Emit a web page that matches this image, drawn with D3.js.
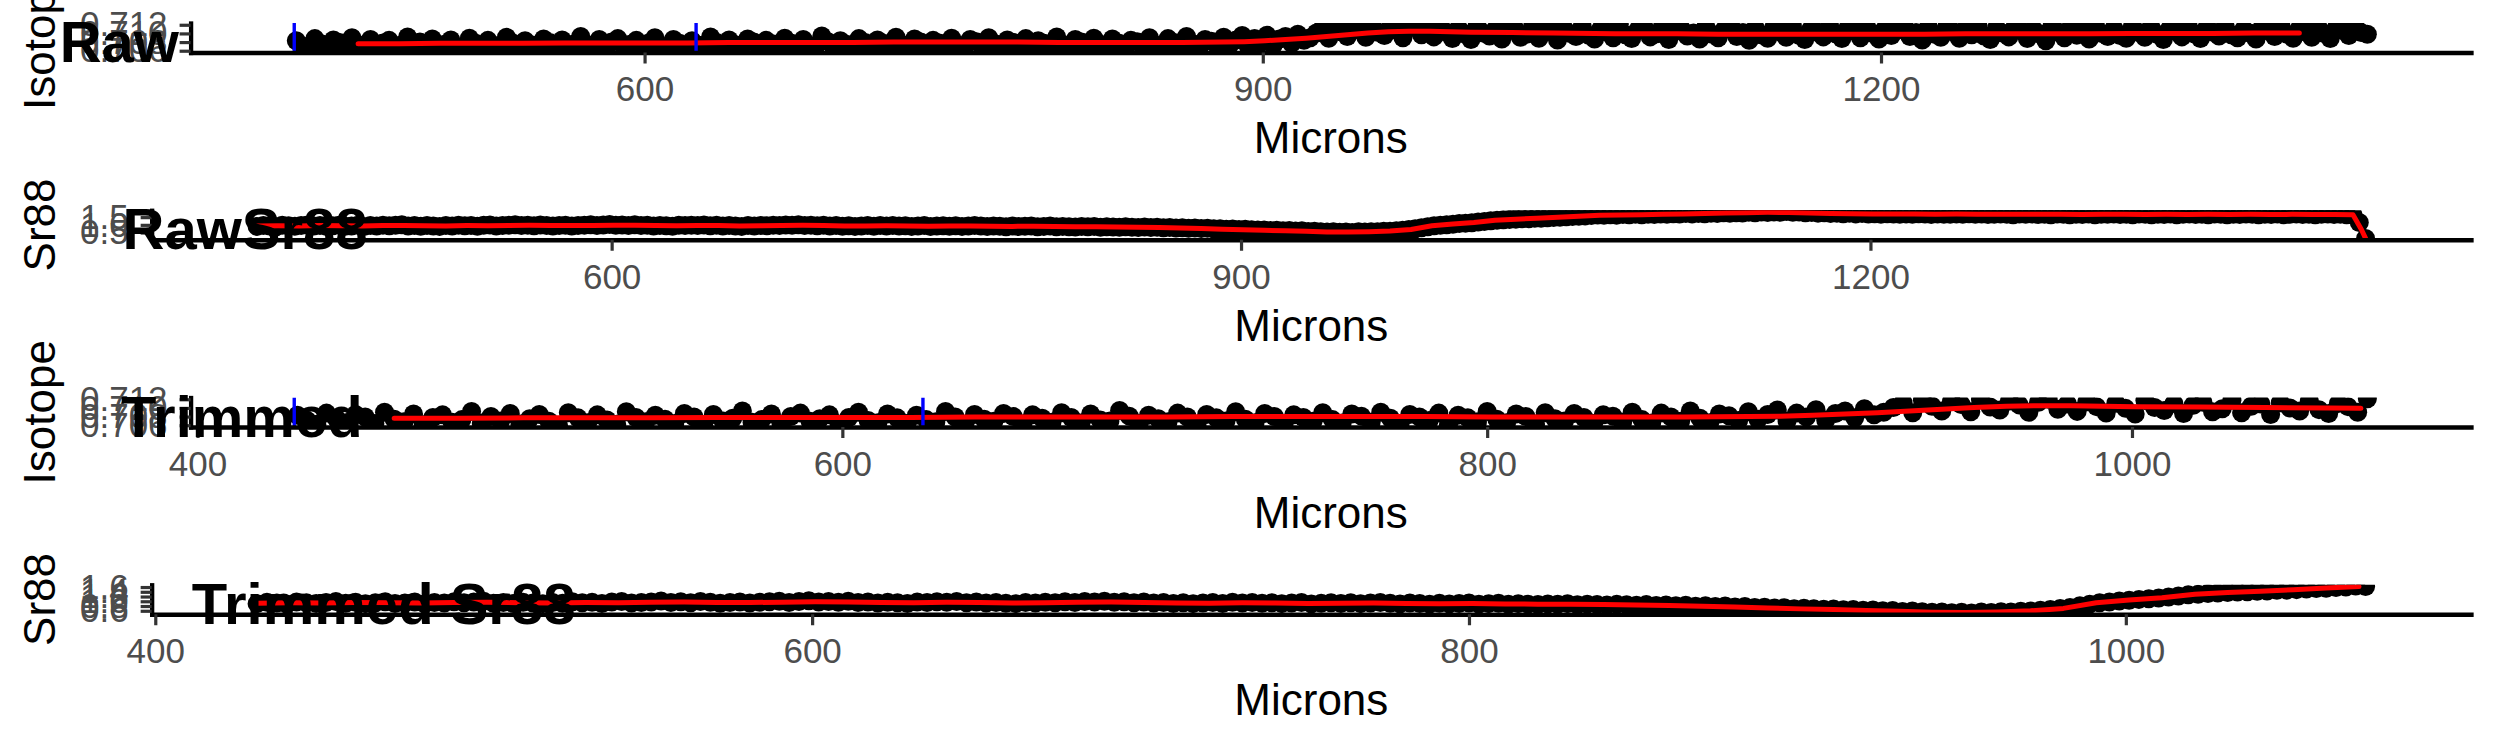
<!DOCTYPE html>
<html><head><meta charset="utf-8">
<script src="https://cdn.jsdelivr.net/npm/d3@7"></script>
<style>
html,body{margin:0;padding:0;background:#fff;}
svg{display:block;}
text{font-family:"Liberation Sans", Arial, Helvetica, sans-serif;}
</style></head><body>
<svg id="chart" width="2495" height="749"></svg>
<script>
// ---------------- DATA ----------------
const microns = [
431,434,437,440,443,446,449,452,455,458,
461,464,467,470,473,476,479,482,485,488,
491,494,497,500,503,506,509,512,515,518,
521,524,527,530,533,536,539,542,545,548,
551,554,557,560,563,566,569,572,575,578,
581,584,587,590,593,596,599,602,605,608,
611,614,617,620,623,626,629,632,635,638,
641,644,647,650,653,656,659,662,665,668,
671,674,677,680,683,686,689,692,695,698,
701,704,707,710,713,716,719,722,725,728,
731,734,737,740,743,746,749,752,755,758,
761,764,767,770,773,776,779,782,785,788,
791,794,797,800,803,806,809,812,815,818,
821,824,827,830,833,836,839,842,845,848,
851,854,857,860,863,866,869,872,875,878,
881,884,887,890,893,896,899,902,905,908,
911,914,917,920,923,926,929,932,935,938,
941,944,947,950,953,956,959,962,965,968,
971,974,977,980,983,986,989,992,995,998,
1001,1004,1007,1010,1013,1016,1019,1022,1025,1028,
1031,1034,1037,1040,1043,1046,1049,1052,1055,1058,
1061,1064,1067,1070,1073,1076,1079,1082,1085,1088,
1091,1094,1097,1100,1103,1106,1109,1112,1115,1118,
1121,1124,1127,1130,1133,1136,1139,1142,1145,1148,
1151,1154,1157,1160,1163,1166,1169,1172,1175,1178,
1181,1184,1187,1190,1193,1196,1199,1202,1205,1208,
1211,1214,1217,1220,1223,1226,1229,1232,1235,1238,
1241,1244,1247,1250,1253,1256,1259,1262,1265,1268,
1271,1274,1277,1280,1283,1286,1289,1292,1295,1298,
1301,1304,1307,1310,1313,1316,1319,1322,1325,1328,
1331,1334,1337,1340,1343,1346,1349,1352,1355,1358,
1361,1364,1367,1370,1373,1376,1379,1382,1385,1388,
1391,1394,1397,1400,1403,1406,1409,1412,1415,1418,
1421,1424,1427,1430,1433,1436];

const isotope = [
0.7083,0.7071,0.7062,0.7088,0.7076,0.7066,0.7085,0.7079,0.7064,0.7090,
0.7074,0.7068,0.7086,0.7061,0.7078,0.7084,0.7067,0.7073,0.7092,0.7065,
0.7080,0.7070,0.7087,0.7063,0.7075,0.7085,0.7069,0.7059,0.7089,0.7077,
0.7066,0.7084,0.7072,0.7062,0.7091,0.7078,0.7068,0.7083,0.7074,0.7064,
0.7087,0.7079,0.7061,0.7085,0.7070,0.7076,0.7093,0.7067,0.7073,0.7086,
0.7063,0.7080,0.7088,0.7069,0.7075,0.7084,0.7062,0.7078,0.7090,0.7071,
0.7066,0.7086,0.7077,0.7064,0.7083,0.7073,0.7068,0.7092,0.7079,0.7062,
0.7085,0.7074,0.7069,0.7087,0.7080,0.7063,0.7084,0.7076,0.7067,0.7089,
0.7078,0.7065,0.7086,0.7072,0.7070,0.7094,0.7081,0.7064,0.7083,0.7075,
0.7068,0.7088,0.7079,0.7061,0.7085,0.7077,0.7070,0.7091,0.7074,0.7066,
0.7087,0.7080,0.7063,0.7084,0.7078,0.7069,0.7089,0.7073,0.7065,0.7086,
0.7081,0.7067,0.7090,0.7076,0.7064,0.7085,0.7079,0.7071,0.7088,0.7062,
0.7083,0.7077,0.7068,0.7092,0.7074,0.7066,0.7086,0.7080,0.7063,0.7089,
0.7075,0.7070,0.7087,0.7078,0.7064,0.7084,0.7081,0.7067,0.7090,0.7073,
0.7065,0.7088,0.7079,0.7069,0.7093,0.7076,0.7066,0.7086,0.7082,0.7071,
0.7091,0.7074,0.7085,0.7095,0.7070,0.7088,0.7079,0.7096,0.7072,0.7087,
0.7093,0.7077,0.7098,0.7084,0.7090,0.7101,
0.7112,0.7089,0.7118,0.7104,0.7093,0.7115,0.7108,0.7091,0.7119,0.7102,
0.7095,0.7116,0.7107,0.7090,0.7113,0.7120,0.7097,0.7109,0.7092,0.7114,
0.7103,0.7088,0.7111,0.7099,0.7086,0.7117,0.7101,0.7094,0.7110,0.7087,
0.7106,0.7113,0.7091,0.7098,0.7118,0.7089,0.7104,0.7109,0.7085,0.7112,
0.7100,0.7093,0.7116,0.7096,0.7087,0.7110,0.7103,0.7090,0.7121,0.7097,
0.7088,0.7108,0.7114,0.7092,0.7099,0.7117,0.7086,0.7105,0.7111,0.7094,
0.7101,0.7087,0.7115,0.7098,0.7090,0.7109,0.7119,0.7093,0.7102,0.7084,
0.7112,0.7097,0.7089,0.7114,0.7104,0.7091,0.7117,0.7096,0.7086,0.7110,
0.7103,0.7092,0.7118,0.7099,0.7088,0.7113,0.7106,0.7090,0.7115,0.7100,
0.7087,0.7111,0.7095,0.7108,0.7120,0.7093,0.7102,0.7085,0.7114,0.7098,
0.7091,0.7116,0.7104,0.7089,0.7110,0.7097,0.7118,0.7094,0.7086,0.7112,
0.7101,0.7092,0.7115,0.7106,0.7088,0.7109,0.7099,0.7083,0.7117,0.7103,
0.7090,0.7113,0.7096,0.7108,0.7087,0.7119,0.7100,0.7093,0.7111,0.7095,
0.7089,0.7116,0.7102,0.7091,0.7114,0.7098,0.7086,0.7110,0.7105,0.7092,
0.7118,0.7099,0.7088,0.7112,0.7103,0.7094,0.7116,0.7097,0.7090,0.7109,
0.7101,0.7087,0.7114,0.7106,0.7093,0.7119,0.7098,0.7089,0.7111,0.7104,
0.7091,0.7115,0.7100,0.7088,0.7113,0.7107,0.7095,0.7117,0.7102,0.7098];

const sr88 = [
0.90,0.96,0.93,0.88,0.97,0.94,0.91,0.95,0.99,0.92,
0.96,0.90,0.94,0.98,0.91,0.93,0.97,0.89,0.95,0.93,
0.98,0.94,0.97,1.00,0.92,0.95,0.91,0.96,0.93,0.90,
0.95,0.92,0.98,0.94,0.96,0.91,0.97,0.99,0.93,0.95,
0.97,1.01,0.95,0.98,0.94,0.99,0.96,0.92,0.95,0.97,
0.93,0.96,0.98,1.00,0.95,0.99,1.02,0.97,0.99,0.96,
1.00,0.95,0.97,0.93,0.96,0.94,0.91,0.97,0.95,0.98,
0.96,0.99,0.94,0.97,0.93,0.95,0.92,0.90,0.95,0.93,
0.96,0.94,0.98,0.95,0.99,0.97,1.00,0.96,0.98,0.94,
0.97,0.93,0.95,0.91,0.94,0.90,0.93,0.95,0.91,0.96,
0.93,0.95,0.92,0.94,0.90,0.93,0.95,0.89,0.92,0.94,
0.91,0.94,0.90,0.93,0.95,0.92,0.89,0.93,0.91,0.88,
0.92,0.89,0.91,0.93,0.88,0.90,0.92,0.87,0.90,0.88,
0.86,0.89,0.87,0.90,0.85,0.88,0.86,0.84,0.87,0.85,
0.83,0.86,0.82,0.84,0.81,0.83,0.79,0.81,0.78,0.80,
0.76,0.78,0.74,0.75,0.72,0.73,0.69,0.71,0.68,0.66,
0.67,0.64,0.65,0.62,0.63,0.60,0.61,0.57,0.59,0.56,
0.54,0.55,0.52,0.54,0.51,0.55,0.53,0.56,0.55,0.58,
0.59,0.62,0.65,0.70,0.74,0.81,0.88,0.94,0.97,1.01,
1.04,1.08,1.11,1.14,1.18,1.22,1.27,1.30,1.33,1.35,
1.37,1.39,1.40,1.42,1.43,1.46,1.47,1.49,1.52,1.54,
1.55,1.58,1.60,1.64,1.62,1.66,1.63,1.67,1.65,1.68,
1.66,1.69,1.67,1.70,1.68,1.72,1.70,1.73,1.71,1.74,
1.72,1.76,1.74,1.78,1.75,1.79,1.77,1.81,1.79,1.83,
1.80,1.84,1.82,1.86,1.81,1.83,1.79,1.80,1.76,1.78,
1.74,1.76,1.72,1.75,1.71,1.73,1.70,1.72,1.69,1.72,
1.70,1.68,1.71,1.69,1.72,1.70,1.67,1.71,1.69,1.68,
1.71,1.69,1.72,1.68,1.70,1.67,1.69,1.71,1.68,1.66,
1.70,1.68,1.71,1.67,1.69,1.66,1.70,1.68,1.65,1.69,
1.67,1.70,1.66,1.69,1.68,1.71,1.67,1.69,1.66,1.70,
1.68,1.65,1.69,1.67,1.70,1.66,1.68,1.71,1.67,1.69,
1.66,1.70,1.68,1.65,1.69,1.67,1.70,1.68,1.66,1.69,
1.67,1.70,1.66,1.68,1.71,1.67,1.69,1.65,1.68,1.70,
1.67,1.69,1.66,1.64,1.15,0.12];

// smoothed (red) isotope line
const isoSmoothMicrons = [461,481,501,521,541,561,581,601,621,641,661,681,701,721,741,761,781,801,821,841,861,881,
891,901,911,921,931,941,951,961,971,981,991,1001,1021,1041,1061,1071,1081,
1101,1121,1141,1161,1181,1201,1221,1241,1261,1281,1301,1321,1341,1361,1381,1403];
const isotopeSmooth = [0.7076,0.7076,0.7077,0.7077,0.7077,0.7078,0.7078,0.7078,0.7078,0.7079,0.7079,0.7079,0.7079,0.7080,0.7080,0.7080,0.7080,0.7079,0.7079,0.7079,0.7079,0.7080,
0.7081,0.7083,0.7086,0.7089,0.7093,0.7097,0.7101,0.7104,0.7105,0.7105,0.7104,0.7103,0.7102,0.7101,0.7100,0.7099,0.7099,
0.7099,0.7098,0.7098,0.7098,0.7098,0.7098,0.7098,0.7099,0.7099,0.7099,0.7099,0.7100,0.7100,0.7100,0.7101,0.7101];

// smoothed (red) Sr88 line
const srSmoothMicrons = [
431,441,451,461,471,481,491,501,511,521,
531,541,551,561,571,581,591,601,611,621,
631,641,651,661,671,681,691,701,711,721,
731,741,751,761,771,781,791,801,811,821,
831,841,851,861,871,881,891,901,911,921,
931,941,951,961,971,981,991,1001,1011,1021,
1031,1041,1051,1061,1071,1081,1091,1101,1111,1121,
1131,1141,1151,1161,1171,1181,1191,1201,1211,1221,
1231,1241,1251,1261,1271,1281,1291,1301,1311,1321,
1331,1341,1351,1361,1371,1381,1391,1401,1411,1421,
1430,1434,1436];
const sr88Smooth = [
0.92,0.94,0.93,0.95,0.94,0.93,0.95,0.96,0.94,0.93,
0.95,0.94,0.96,0.97,0.95,0.95,0.96,0.98,0.97,0.95,
0.94,0.96,0.95,0.93,0.94,0.96,0.97,0.95,0.93,0.92,
0.94,0.93,0.91,0.92,0.93,0.91,0.90,0.91,0.89,0.88,
0.87,0.86,0.84,0.82,0.79,0.76,0.72,0.68,0.65,0.61,
0.58,0.54,0.53,0.55,0.60,0.70,0.94,1.05,1.15,1.30,
1.37,1.42,1.49,1.56,1.62,1.64,1.66,1.69,1.71,1.74,
1.77,1.79,1.81,1.80,1.77,1.74,1.72,1.71,1.70,1.70,
1.69,1.70,1.69,1.68,1.69,1.68,1.68,1.67,1.68,1.68,
1.67,1.68,1.67,1.68,1.67,1.68,1.67,1.68,1.67,1.67,
1.65,0.70,0.12];

const markerMicrons = [430, 625];          // blue vertical lines
const trimRange = [431, 1073];            // trimmed window (microns)
const panelTitles = ["Raw", "RawSr88", "Trimmed", "Trimmed Sr88"];
const yTitles = ["Isotope", "Sr88", "Isotope", "Sr88"];
const xTitle = "Microns";
const xTicksRaw = [600, 900, 1200];
const xTicksTrim = [400, 600, 800, 1000];
const yTicksIso = [0.706, 0.708, 0.710, 0.712];
const yTicksSrRaw = [0.5, 1.0, 1.5];
const yTicksSrTrim = [0.6, 0.8, 1.0, 1.2, 1.4, 1.6];

// ---------------- BUILD ----------------
const W = 2495, H = 749, panelH = H / 4;
const plotRight = 2471;
const svg = d3.select("#chart");
const FONT = '"Liberation Sans", Arial, Helvetica, sans-serif';

const pts = (ys) => microns.map((m, i) => ({x: m, y: ys[i]})).filter(d => d.y != null);
const rawIso = pts(isotope), rawSr = pts(sr88);
const inTrim = d => d.x >= trimRange[0] && d.x <= trimRange[1];
const isoLine = isoSmoothMicrons.map((m, i) => ({x: m, y: isotopeSmooth[i]}));
const srLine = srSmoothMicrons.map((m, i) => ({x: m, y: sr88Smooth[i]}));

const fIso = d3.format(".3f"), fSr = d3.format(".1f");
const panels = [
  {points: rawIso, line: isoLine, xTicks: xTicksRaw, yTicks: yTicksIso, fmt: fIso, markers: markerMicrons},
  {points: rawSr, line: srLine, xTicks: xTicksRaw, yTicks: yTicksSrRaw, fmt: fSr, markers: []},
  {points: rawIso.filter(inTrim), line: isoLine.filter(d => d.x <= 1071), xTicks: xTicksTrim, yTicks: yTicksIso, fmt: fIso, markers: markerMicrons},
  {points: rawSr.filter(inTrim), line: srLine.filter(d => d.x <= 1071), xTicks: xTicksTrim, yTicks: yTicksSrTrim, fmt: fSr, markers: []}
];

const defs = svg.append("defs");
const labelLayer = [];

panels.forEach((cfg, k) => {
  const T = k * panelH;
  const top = T + 23, bottom = T + 52.5;
  const g = svg.append("g");

  // width of the y tick labels decides the left edge of the panel
  const meas = svg.append("text").attr("font-size", 35).attr("font-family", FONT).style("visibility", "hidden");
  let maxW = 0;
  cfg.yTicks.forEach(t => { meas.text(cfg.fmt(t)); maxW = Math.max(maxW, meas.node().getComputedTextLength()); });
  meas.remove();
  const L = 80 + maxW + 23;

  const xs = cfg.points.map(d => d.x).concat(cfg.markers);
  const [x0, x1] = d3.extent(xs), dx = (x1 - x0) * 0.05;
  const x = d3.scaleLinear().domain([x0 - dx, x1 + dx]).range([L, plotRight]);
  const ys = cfg.points.map(d => d.y).concat(cfg.line.map(d => d.y));
  const [y0, y1] = d3.extent(ys), dy = (y1 - y0) * 0.05;
  const y = d3.scaleLinear().domain([y0 - dy, y1 + dy]).range([bottom, top]);

  const clipId = "clip" + k;
  defs.append("clipPath").attr("id", clipId).append("rect")
    .attr("x", L).attr("y", top).attr("width", plotRight - L).attr("height", bottom - top);
  const plot = g.append("g").attr("clip-path", `url(#${clipId})`);

  plot.append("g").selectAll("circle").data(cfg.points).join("circle")
    .attr("cx", d => x(d.x)).attr("cy", d => y(d.y)).attr("r", 9.5).attr("fill", "#000");

  plot.append("path").datum(cfg.line)
    .attr("d", d3.line().x(d => x(d.x)).y(d => y(d.y)))
    .attr("fill", "none").attr("stroke", "#FF0000").attr("stroke-width", 5)
    .attr("stroke-linejoin", "round").attr("stroke-linecap", "round");

  plot.append("g").selectAll("line").data(cfg.markers).join("line")
    .attr("x1", d => x(d)).attr("x2", d => x(d)).attr("y1", top).attr("y2", bottom)
    .attr("stroke", "#0000FF").attr("stroke-width", 3.4);

  // axes
  const gx = g.append("g").attr("transform", `translate(0,${bottom})`)
    .call(d3.axisBottom(x).tickValues(cfg.xTicks).tickFormat(d3.format("d"))
      .tickSize(11).tickSizeOuter(0).tickPadding(13));
  const gy = g.append("g").attr("transform", `translate(${L},0)`)
    .call(d3.axisLeft(y).tickValues(cfg.yTicks).tickFormat(cfg.fmt)
      .tickSize(11).tickSizeOuter(0).tickPadding(12));
  [gx, gy].forEach(a => {
    a.attr("font-size", 35).attr("font-family", FONT);
    a.select(".domain").attr("stroke", "#000").attr("stroke-width", 4.3).attr("stroke-linecap", "square");
    a.selectAll(".tick line").attr("stroke", "#333333").attr("stroke-width", 3.2);
    a.selectAll(".tick text").attr("fill", "#4D4D4D");
  });

  // axis titles
  g.append("text").attr("x", (L + plotRight) / 2).attr("y", T + 153.3)
    .attr("text-anchor", "middle").attr("font-size", 44).attr("fill", "#000").text(xTitle);
  const cy = (top + bottom) / 2;
  g.append("text").attr("transform", `translate(55,${cy}) rotate(-90)`)
    .attr("text-anchor", "middle").attr("font-size", 44).attr("fill", "#000").text(yTitles[k]);

  labelLayer.push({text: panelTitles[k], T});
});

// panel labels (drawn on top, left offset of half their width)
labelLayer.forEach(l => {
  const t = svg.append("text").attr("font-size", 58).attr("font-weight", "bold")
    .attr("fill", "#000").attr("y", l.T + 62).text(l.text);
  const w = t.node().getComputedTextLength();
  t.attr("x", w / 2);
});
</script>
</body></html>
